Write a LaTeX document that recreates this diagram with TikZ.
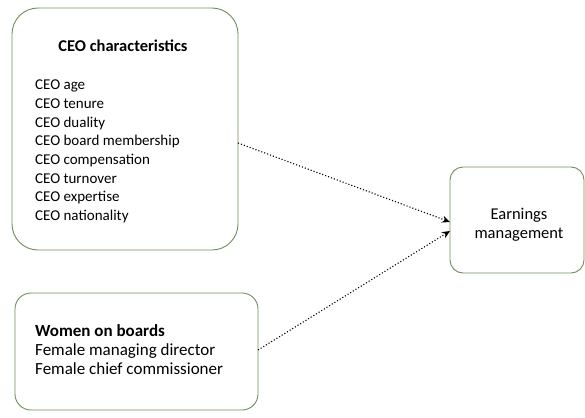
\documentclass[tikz,border=0pt]{standalone}
\usepackage{fontspec}
\setmainfont{Carlito}
\usetikzlibrary{arrows.meta}
\definecolor{boxline}{RGB}{112,142,92}
\tikzset{
  box/.style={draw=boxline, line width=0.9pt, fill=white},
  itemtext/.style={anchor=base west, font=\fontsize{15}{17}\selectfont, inner sep=0pt},
  bigtext/.style={anchor=base west, font=\fontsize{17}{19}\selectfont, inner sep=0pt},
  conn/.style={dotted, line width=1.1pt, -{Stealth[length=8pt,width=7pt]}}
}
\begin{document}
\begin{tikzpicture}[x=1pt,y=-1pt]
\useasboundingbox (0,0) rectangle (585,417);
% boxes
\draw[box, rounded corners=26pt] (12,8) rectangle (238,250);
\draw[box, rounded corners=16pt] (15,293) rectangle (258,410);
\draw[box, rounded corners=13pt] (450,167) rectangle (584,273);
\coordinate (ceoR) at (238,143);
\coordinate (wobR) at (258,350);
\coordinate (emL1) at (450,222);
\coordinate (emL2) at (450,231);
% box 1 text
\node[bigtext, anchor=base, font=\fontsize{16.5}{19}\selectfont\bfseries] (t0) at (123,52) {CEO characteristics};
\node[itemtext] (t1) at (35,90) {CEO age};
\node[itemtext] (t2) at (35,108.6) {CEO tenure};
\node[itemtext] (t3) at (35,127.2) {CEO duality};
\node[itemtext] (t4) at (35,145.8) {CEO board membership};
\node[itemtext] (t5) at (35,164.4) {CEO compensation};
\node[itemtext] (t6) at (35,183) {CEO turnover};
\node[itemtext] (t7) at (35,201.6) {CEO expertise};
\node[itemtext] (t8) at (35,220.2) {CEO nationality};
% box 2 text
\node[bigtext, font=\fontsize{17}{19}\selectfont\bfseries] (w0) at (35,336) {Women on boards};
\node[bigtext] (w1) at (35,355) {Female managing director};
\node[bigtext] (w2) at (35,374) {Female chief commissioner};
% box 3 text
\node[bigtext, anchor=base, font=\fontsize{16.5}{19}\selectfont] (e1) at (519,219) {Earnings};
\node[bigtext, anchor=base, font=\fontsize{16.5}{19}\selectfont] (e2) at (519,238) {management};
% connectors
\draw[conn] (ceoR) -- (emL1);
\draw[conn] (wobR) -- (emL2);
\end{tikzpicture}
\end{document}
